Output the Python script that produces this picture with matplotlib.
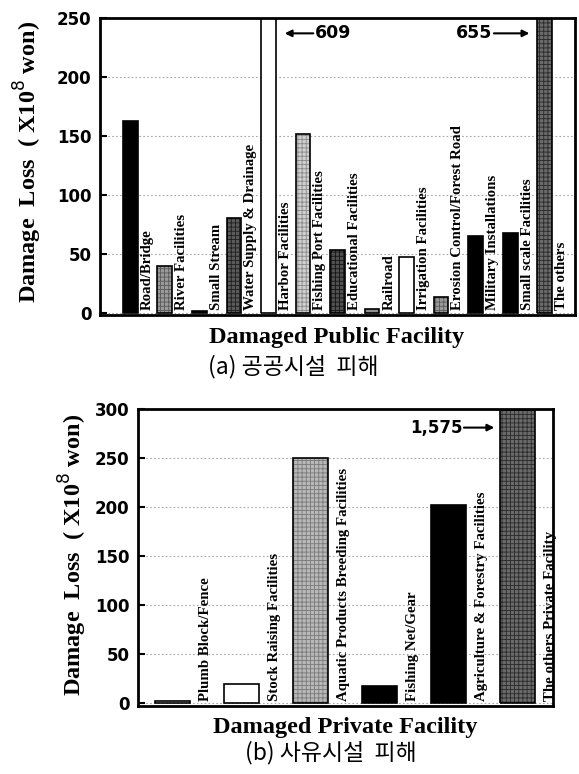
import numpy as np
import matplotlib
matplotlib.use("Agg")
import matplotlib.pyplot as plt

# public facility damage (x10^8 won)
publicNames = ["Road/Bridge", "River Facilities", "Small Stream", "Water Supply & Drainage",
               "Harbor Facilities", "Fishing Port Facilities", "Educational Facilities",
               "Railroad", "Irrigation Facilities", "Erosion Control/Forest Road",
               "Military Installations", "Small scale Facilities", "The others"]
publicLoss = [163, 40, 1, 80, 609, 152, 53, 3, 47, 13, 65, 68, 655]

# private facility damage (x10^8 won)
privateNames = ["Plumb Block/Fence", "Stock Raising Facilities", "Aquatic Products Breeding Facilities",
                "Fishing Net/Gear", "Agriculture & Forestry Facilities", "The others Private Facility"]
privateLoss = [2, 19, 250, 17, 202, 1575]

# fill colour, hatch colour (None = plain)
publicStyle = [("black", None), ("#9a9a9a", "#5a5a5a"), ("black", None), ("#5a5a5a", "#1e1e1e"),
               ("white", None), ("#cfcfcf", "#8a8a8a"), ("#505050", "#151515"), ("#909090", None),
               ("white", None), ("#9a9a9a", "#5a5a5a"), ("black", None), ("black", None),
               ("#6a6a6a", "#2a2a2a")]
privateStyle = [("white", None), ("white", None), ("#b8b8b8", "#7a7a7a"), ("black", None),
                ("black", None), ("#6a6a6a", "#2a2a2a")]

serif = "Liberation Serif"
sans = "DejaVu Sans"
plt.rcParams["hatch.linewidth"] = 0.6


def drawBars(ax, names, values, styles, width, offset, ymax, step):
    x = np.arange(len(names))
    for i in range(len(names)):
        face, hatch = styles[i]
        if hatch is not None:
            ax.bar(x[i], values[i], width=width, color=face, edgecolor=hatch,
                   hatch="++++", linewidth=0, zorder=2)
        else:
            ax.bar(x[i], values[i], width=width, color=face, linewidth=0, zorder=2)
        ax.bar(x[i], values[i], width=width, fill=False, edgecolor="black",
               linewidth=1.2, zorder=3)
        ax.text(x[i] + offset, ymax * 0.008, names[i], rotation=90, ha="center", va="bottom",
                fontfamily=serif, fontweight="bold", fontsize=10.7, zorder=4)
    ax.set_xticks([])
    ax.set_yticks(np.arange(0, ymax + 1, step))
    ax.tick_params(axis="y", direction="in", length=5, width=1.5, pad=6)
    for lab in ax.get_yticklabels():
        lab.set_fontfamily(sans)
        lab.set_fontweight("bold")
        lab.set_fontsize(12)
    ax.yaxis.grid(True, linestyle=(0, (1.5, 2)), color="#a8a8a8", linewidth=0.8, zorder=0)
    ax.set_axisbelow(True)
    for s in ax.spines.values():
        s.set_linewidth(2)


fig = plt.figure(figsize=(5.79, 7.74), dpi=100)

ax1 = fig.add_axes([0.1727, 0.5930, 0.8204, 0.3837])
drawBars(ax1, publicNames, publicLoss, publicStyle, 0.43, 0.49, 250, 50)
ax1.set_xlim(-0.88, 12.88)
ax1.set_ylim(-2, 250)
ax1.annotate("", xy=(4.39, 237), xytext=(5.38, 237),
             arrowprops=dict(arrowstyle="-|>", color="black", lw=1.5, mutation_scale=10))
ax1.text(5.35, 237, "609", ha="left", va="center", fontfamily=sans, fontweight="bold", fontsize=12.5)
ax1.annotate("", xy=(11.64, 237), xytext=(10.45, 237),
             arrowprops=dict(arrowstyle="-|>", color="black", lw=1.5, mutation_scale=10))
ax1.text(10.48, 237, "655", ha="right", va="center", fontfamily=sans, fontweight="bold", fontsize=12.5)

ax2 = fig.add_axes([0.2383, 0.0879, 0.7168, 0.3837])
drawBars(ax2, privateNames, privateLoss, privateStyle, 0.51, 0.48, 300, 50)
ax2.set_xlim(-0.5, 5.51)
ax2.set_ylim(-3, 300)
ax2.annotate("", xy=(4.70, 281), xytext=(4.18, 281),
             arrowprops=dict(arrowstyle="-|>", color="black", lw=1.5, mutation_scale=10))
ax2.text(4.20, 281, "1,575", ha="right", va="center", fontfamily=sans, fontweight="bold", fontsize=12)

ylab = "Damage  Loss  ( X10$^{8}$ won)"
fig.text(28 / 579, 1 - 162 / 774, ylab, rotation=90, ha="center", va="center",
         fontfamily=serif, fontweight="bold", fontsize=17.5)
fig.text(73 / 579, 1 - 555 / 774, ylab, rotation=90, ha="center", va="center",
         fontfamily=serif, fontweight="bold", fontsize=17.5)

fig.text(337 / 579, 1 - 338 / 774, "Damaged Public Facility", ha="center", va="center",
         fontfamily=serif, fontweight="bold", fontsize=17.5)
fig.text(345 / 579, 1 - 728 / 774, "Damaged Private Facility", ha="center", va="center",
         fontfamily=serif, fontweight="bold", fontsize=17.5)

fig.text(293 / 579, 1 - 367 / 774, "(a) 공공시설  피해", ha="center", va="center",
         family=["Noto Sans CJK KR", "DejaVu Sans"], fontsize=16.5, fontweight="light")
fig.text(331 / 579, 1 - 753 / 774, "(b) 사유시설  피해", ha="center", va="center",
         family=["Noto Sans CJK KR", "DejaVu Sans"], fontsize=16.5, fontweight="light")

fig.savefig("out.png", dpi=100)
